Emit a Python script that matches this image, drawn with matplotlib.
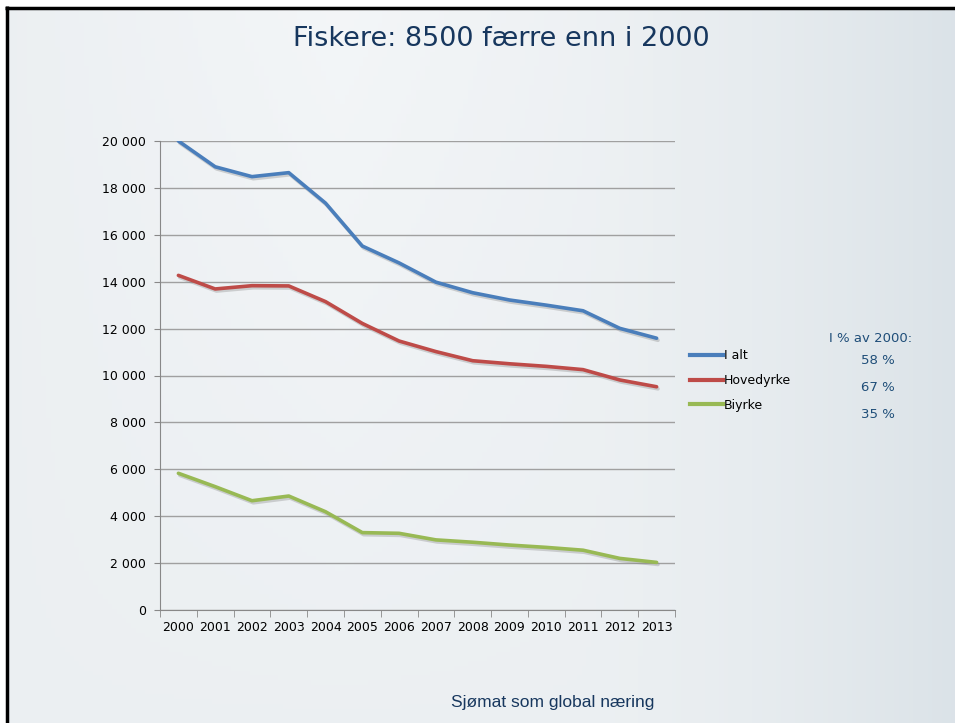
import numpy as np
import matplotlib.pyplot as plt
import matplotlib.patheffects as pe
from matplotlib.lines import Line2D

# data
years = [str(y) for y in range(2000, 2014)]
i_alt = [20000, 18900, 18480, 18650, 17350, 15520, 14800, 13980, 13530, 13220, 13000, 12760, 12010, 11590]
hovedyrke = [14270, 13690, 13830, 13820, 13150, 12220, 11470, 11020, 10630, 10500, 10390, 10250, 9810, 9520]
biyrke = [5830, 5260, 4660, 4860, 4190, 3300, 3270, 2990, 2890, 2770, 2670, 2550, 2200, 2030]
series_names = ['I alt', 'Hovedyrke', 'Biyrke']
pct_of_2000 = ['58 %', '67 %', '35 %']
colors = ['#4A7EBB', '#BE4B48', '#98B954']

W, H = 955, 723
fig = plt.figure(figsize=(W / 100, H / 100), dpi=100)
fig.patch.set_facecolor('white')

# slide background gradient
bg = fig.add_axes([0, 0, 1, 1], zorder=-10)
xx, yy = np.meshgrid(np.linspace(0, 1, 200), np.linspace(0, 1, 150))
base = np.array([0.925, 0.940, 0.950])
mid = np.array([0.962, 0.970, 0.977])
right = np.array([0.860, 0.890, 0.910])
t = np.clip((xx - 0.6) / 0.4, 0, 1) ** 1.6
c = np.clip(1 - np.abs(xx - 0.35) / 0.35, 0, 1) * (1 - yy) * 0.8
img = base[None, None, :] * (1 - t[..., None]) + right[None, None, :] * t[..., None]
img = img * (1 - c[..., None]) + mid[None, None, :] * c[..., None]
bg.imshow(img, extent=[8, W, H, 9], aspect='auto', origin='upper')
bg.set_xlim(0, W)
bg.set_ylim(H, 0)
bg.axis('off')
# slide border (top and left)
bg.plot([5, W], [7.5, 7.5], color='black', lw=2.5, solid_capstyle='butt')
bg.plot([6.5, 6.5], [6, H], color='black', lw=2.5, solid_capstyle='butt')

# title and footer
fig.text(501 / W, 1 - 39 / H, 'Fiskere: 8500 færre enn i 2000', ha='center', va='center',
         fontsize=19.5, color='#17375E', family='DejaVu Sans')
fig.text(553 / W, 1 - 703 / H, 'Sjømat som global næring', ha='center', va='center',
         fontsize=12.5, color='#17375E', family='Liberation Sans')

# chart
ax = fig.add_axes([160 / W, 1 - 610 / H, 515 / W, 469 / H])
ax.patch.set_alpha(0)
x = np.arange(len(years))
shadow = [pe.SimpleLineShadow(offset=(1, -1.5), shadow_color='#888888', alpha=0.35), pe.Normal()]
for vals, col, name in zip([i_alt, hovedyrke, biyrke], colors, series_names):
    ax.plot(x, vals, color=col, lw=2.6, label=name, path_effects=shadow, solid_capstyle='round')

ax.set_xlim(-0.5, len(years) - 0.5)
ax.set_ylim(0, 20000)
ax.set_yticks(range(0, 20001, 2000))
ax.set_yticklabels([f'{v:,}'.replace(',', ' ') for v in range(0, 20001, 2000)])
ax.set_xticks(x)
ax.set_xticklabels(years)
ax.set_xticks(np.arange(-0.5, len(years), 1), minor=True)
ax.tick_params(axis='x', which='major', length=0, pad=8, labelsize=9)
ax.tick_params(axis='x', which='minor', length=5, color='#888888', direction='out')
ax.tick_params(axis='y', length=4, color='#888888', labelsize=9, pad=6)
ax.grid(axis='y', color='#A0A0A0', lw=1)
ax.set_axisbelow(True)
for s in ['top', 'right']:
    ax.spines[s].set_visible(False)
ax.spines['left'].set_color('#888888')
ax.spines['bottom'].set_color('#888888')

# legend
handles = [Line2D([0], [0], color=c_, lw=3) for c_ in colors]
fig.legend(handles, series_names, loc='upper left', bbox_to_anchor=(690 / W, 1 - 349 / H),
           frameon=False, fontsize=9, handlelength=2.6, handletextpad=0.1, labelspacing=0.95,
           borderaxespad=0, borderpad=0)

fig.text(871 / W, 1 - 339 / H, 'I % av 2000:', ha='center', va='center', fontsize=9.5, color='#1F4E79')
for i, p in enumerate(pct_of_2000):
    fig.text(878 / W, 1 - (361 + 26.5 * i) / H, p, ha='center', va='center', fontsize=9.5, color='#1F4E79')

fig.savefig('out.png', dpi=100)
